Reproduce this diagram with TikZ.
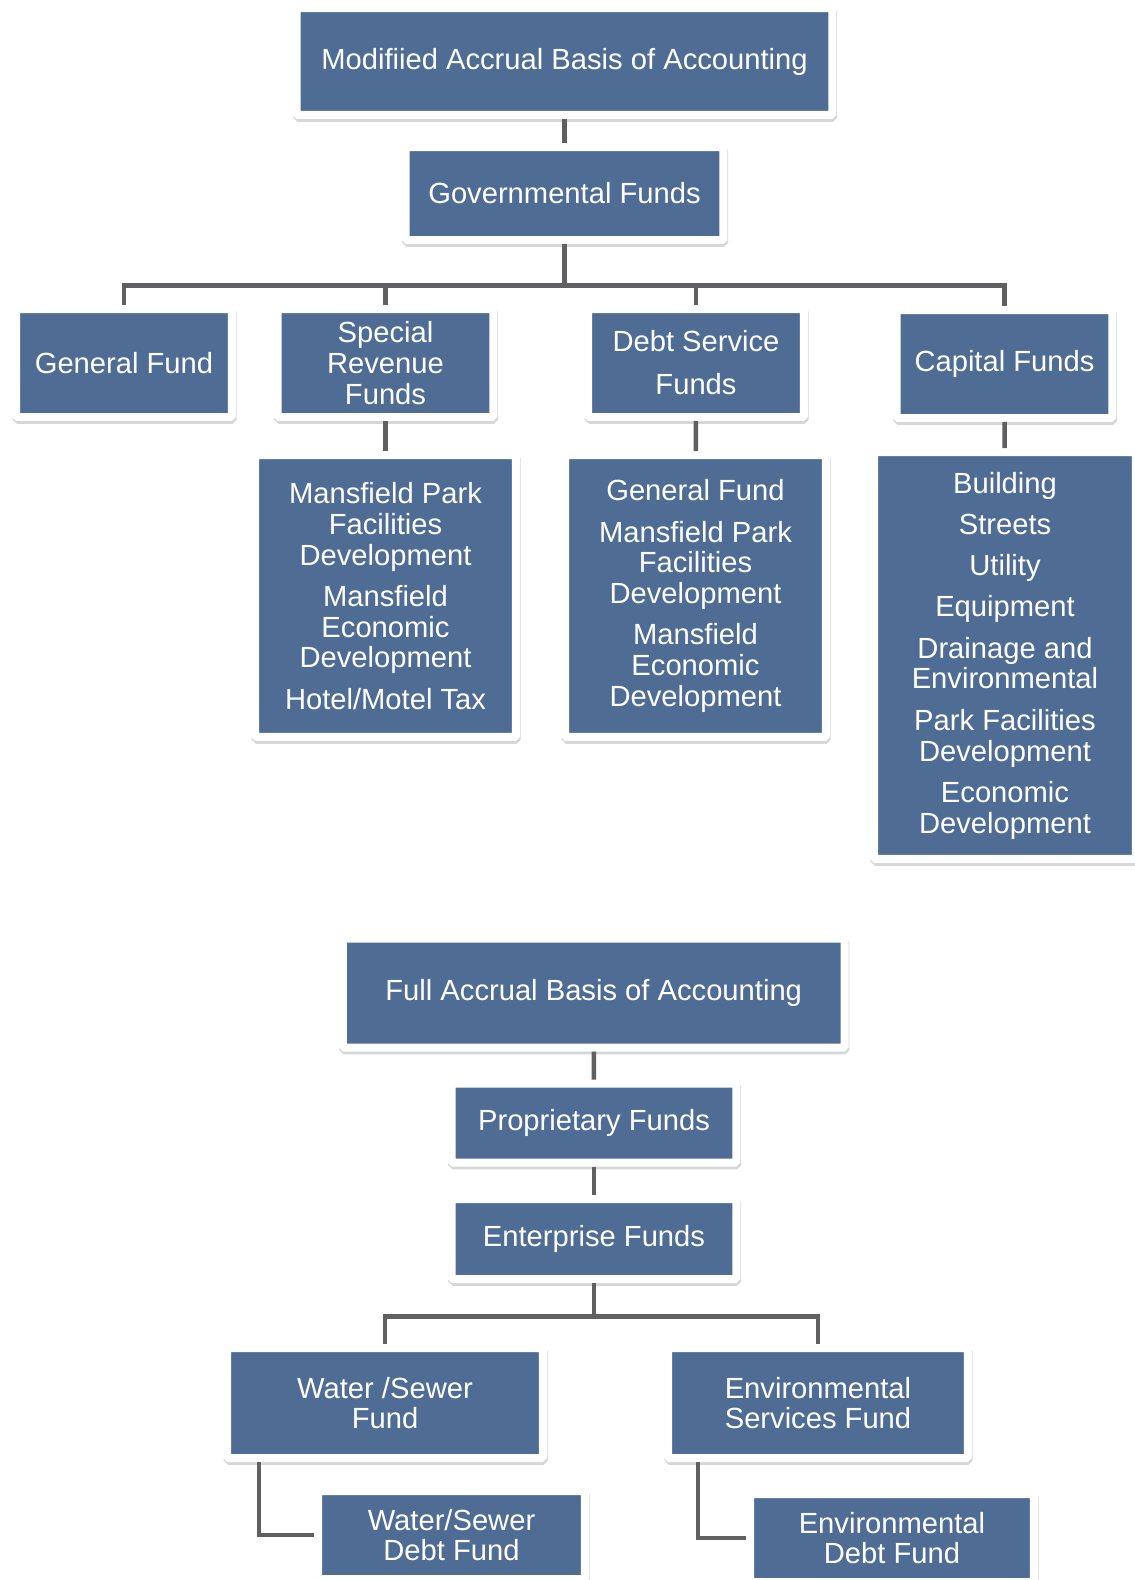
\documentclass[tikz,border=0pt]{standalone}
\usepackage{fontspec}
\setmainfont{Liberation Sans}
\usepackage{xcolor}
\usepackage{tikz}
\usetikzlibrary{positioning,shadows}
\definecolor{fundblue}{RGB}{79,109,148}
\definecolor{fundline}{RGB}{96,96,98}
\tikzset{
  fundbox/.style={
    rectangle,
    fill=fundblue,
    draw=white,
    line width=0.16cm,
    rounded corners=1pt,
    drop shadow={shadow xshift=0.4pt, shadow yshift=-1.6pt, fill=black!45, draw=black!45, line width=0.16cm, opacity=0.35},
    text=white,
    align=center,
    inner sep=0pt,
    font=\fontsize{16.6}{17.5}\selectfont
  },
  fundlink/.style={
    draw=fundline,
    line width=0.09cm
  }
}

\begin{document}
\begin{tikzpicture}[x=0.02cm, y=-0.02cm]
\useasboundingbox (0,0) rectangle (1135,1580);
\node[fundbox, minimum width=10.72cm, minimum height=2.14cm] (modacc) at (564.5,61.5) {Modifiied Accrual Basis of Accounting};
\node[fundbox, minimum width=6.36cm, minimum height=1.86cm] (govfunds) at (564.5,193.5) {Governmental Funds};
\node[fundbox, minimum width=4.32cm, minimum height=2.16cm] (genfund) at (124,363) {General Fund};
\node[fundbox, minimum width=4.32cm, minimum height=2.16cm] (specrev) at (385.5,363) {Special\\Revenue\\Funds};
\node[fundbox, minimum width=4.32cm, minimum height=2.16cm] (debtserv) at (696,363) {Debt Service\\[7pt]Funds};
\node[fundbox, minimum width=4.32cm, minimum height=2.16cm] (capfunds) at (1004.5,364) {Capital Funds};
\node[fundbox, minimum width=5.22cm, minimum height=5.64cm] (srdetail) at (385.5,596) {Mansfield Park\\Facilities\\Development\\[6pt]Mansfield\\Economic\\Development\\[6pt]Hotel/Motel Tax};
\node[fundbox, minimum width=5.22cm, minimum height=5.64cm] (dsdetail) at (695.5,596) {General Fund\\[6pt]Mansfield Park\\Facilities\\Development\\[6pt]Mansfield\\Economic\\Development};
\node[fundbox, minimum width=5.24cm, minimum height=8.14cm] (capdetail) at (1005,655.5) {Building\\[6pt]Streets\\[6pt]Utility\\[6pt]Equipment\\[6pt]Drainage and\\Environmental\\[6pt]Park Facilities\\Development\\[6pt]Economic\\Development};
\node[fundbox, minimum width=10.04cm, minimum height=2.18cm] (fullacc) at (593.7,993) {Full Accrual Basis of Accounting};
\node[fundbox, minimum width=5.70cm, minimum height=1.58cm] (propfunds) at (594,1123) {Proprietary Funds};
\node[fundbox, minimum width=5.70cm, minimum height=1.60cm] (entfunds) at (594,1239) {Enterprise Funds};
\node[fundbox, minimum width=6.32cm, minimum height=2.20cm] (wsfund) at (385,1403) {Water /Sewer\\Fund};
\node[fundbox, minimum width=6.00cm, minimum height=2.20cm] (envfund) at (818,1403) {Environmental\\Services Fund};
\node[fundbox, minimum width=5.34cm, minimum height=1.76cm] (wsdebt) at (451.5,1535) {Water/Sewer\\Debt Fund};
\node[fundbox, minimum width=5.68cm, minimum height=1.76cm] (envdebt) at (892,1538) {Environmental\\Debt Fund};
\coordinate (govbar) at (564.5,285.5);
\coordinate (entbar) at (594,1316.5);

\draw[fundlink] (modacc) -- (govfunds);
\draw[fundlink] (govfunds) -- (govbar) -| (genfund);
\draw[fundlink] (govbar) -| (specrev);
\draw[fundlink] (govbar) -| (debtserv);
\draw[fundlink] (govbar) -| (capfunds);
\draw[fundlink] (specrev) -- (srdetail);
\draw[fundlink] (debtserv) -- (dsdetail);
\draw[fundlink] (capfunds) -- (capdetail);
\draw[fundlink] (fullacc) -- (propfunds);
\draw[fundlink] (propfunds) -- (entfunds);
\draw[fundlink] (entfunds) -- (entbar) -| (wsfund);
\draw[fundlink] (entbar) -| (envfund);
\draw[fundlink] ([xshift=0.72cm]wsfund.south west) |- (wsdebt);
\draw[fundlink] ([xshift=0.68cm]envfund.south west) |- (envdebt);
\end{tikzpicture}
\end{document}
